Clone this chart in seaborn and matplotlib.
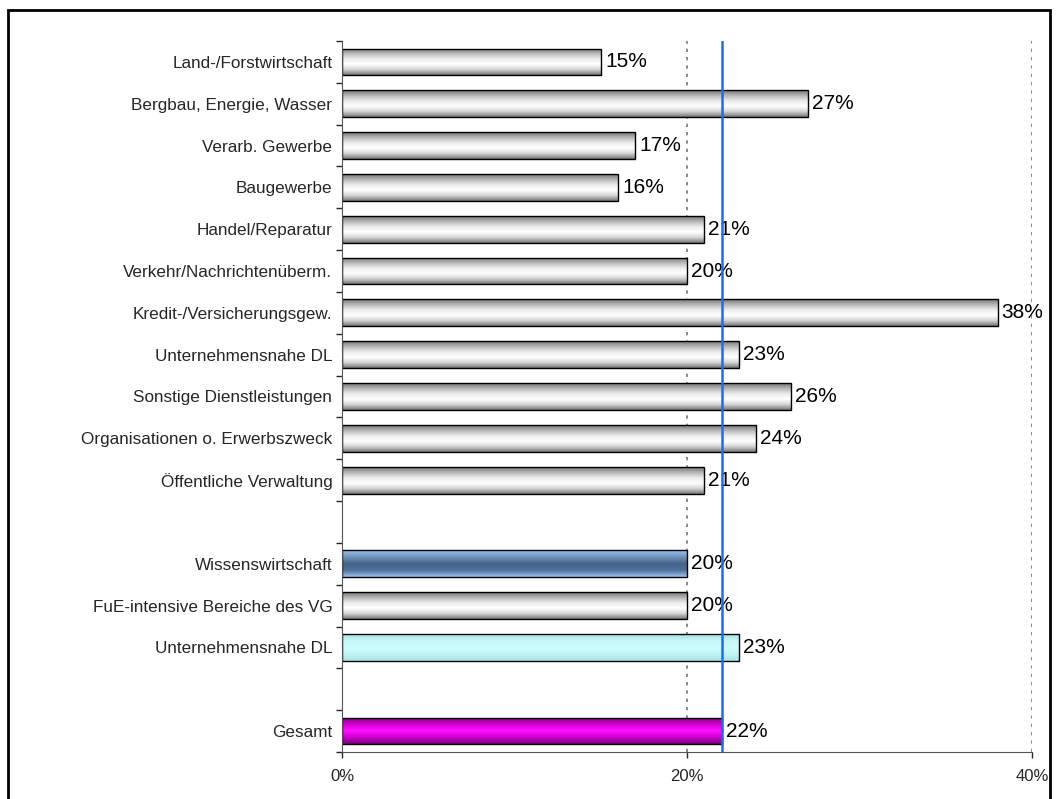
import numpy as np
import pandas as pd
import matplotlib
matplotlib.use("Agg")
import matplotlib.pyplot as plt
from matplotlib.colors import LinearSegmentedColormap
from matplotlib.patches import Rectangle
import seaborn as sns

sns.set_style("white")
plt.rcParams['font.family'] = ['Liberation Sans', 'DejaVu Sans']

categories = ["Land-/Forstwirtschaft", "Bergbau, Energie, Wasser", "Verarb. Gewerbe",
              "Baugewerbe", "Handel/Reparatur", "Verkehr/Nachrichtenüberm.",
              "Kredit-/Versicherungsgew.", "Unternehmensnahe DL", "Sonstige Dienstleistungen",
              "Organisationen o. Erwerbszweck", "Öffentliche Verwaltung", " ",
              "Wissenswirtschaft", "FuE-intensive Bereiche des VG", "Unternehmensnahe DL ",
              "  ", "Gesamt"]
values = [15, 27, 17, 16, 21, 20, 38, 23, 26, 24, 21, np.nan, 20, 20, 23, np.nan, 22]
styles = ["gray"] * 11 + ["none", "blue", "gray", "cyan", "none", "magenta"]
average = 22

gradients = {
    "gray": ["#767676", "#b8b8b8", "#ececec", "#ffffff", "#d4d4d4", "#767676"],
    "blue": ["#9cc4f4", "#6f92bc", "#45648a", "#4d6f98", "#9cc4f4"],
    "cyan": ["#a8e4e4", "#c8f8f8", "#cffcfc", "#c0f4f4", "#a8e4e4"],
    "magenta": ["#7a007a", "#d000d0", "#ff10ff", "#d000d0", "#7a007a"],
    "none": ["#ffffff", "#ffffff"],
}

df = pd.DataFrame({"cat": categories, "val": values, "style": styles})
plot_df = df.dropna()

fig = plt.figure(figsize=(10.56, 7.99), dpi=100)
ax = fig.add_axes([342 / 1056, 1 - 752 / 799, (1032 - 342) / 1056, (752 - 41) / 799])

sns.barplot(data=plot_df, x="val", y="cat", order=categories, hue="cat",
            palette={c: "#cccccc" for c in plot_df["cat"]}, legend=False,
            width=0.64, edgecolor="black", linewidth=1.0, ax=ax, orient="h")

# gradient fills clipped to each bar
for patch in ax.patches:
    x0, y0 = patch.get_x(), patch.get_y()
    w, h = patch.get_width(), patch.get_height()
    if not np.isfinite(w) or w == 0:
        continue
    idx = int(round(y0 + h / 2))
    st = styles[idx]
    cmap = LinearSegmentedColormap.from_list("g", gradients[st])
    grad = np.linspace(0, 1, 64).reshape(-1, 1)
    im = ax.imshow(grad, aspect="auto", cmap=cmap,
                   extent=(x0, x0 + w, y0 + h, y0), origin="upper", zorder=1.5,
                   interpolation="bilinear")
    im.set_clip_path(patch)
    patch.set_facecolor("none")
    patch.set_zorder(2)

for cont in ax.containers:
    ax.bar_label(cont, fmt="%d%%", padding=3, fontsize=15, color="black")

ax.set_xlim(0, 40)
ax.set_ylim(len(categories) - 0.5, -0.5)
ax.set_xticks([0, 20, 40])
ax.set_xticklabels(["0%", "20%", "40%"], fontsize=12)
ax.tick_params(axis="x", length=4, width=1, direction="out", pad=8, bottom=True)
ax.set_yticks(range(len(categories)))
ax.set_yticklabels([c.strip() for c in categories], fontsize=12.3)
ax.tick_params(axis="y", length=0, pad=7)
ax.set_yticks(np.arange(-0.5, len(categories) + 0.5, 1), minor=True)
ax.tick_params(axis="y", which="minor", length=4, width=1, left=True)
ax.set_xlabel("")
ax.set_ylabel("")

for xv in [20, 40]:
    ax.axvline(xv, color="#777777", linestyle=(0, (2, 3)), linewidth=1.2, zorder=0.5)
ax.axvline(average, color="#1a6ef0", linewidth=1.8, zorder=3)

for side in ["top", "right"]:
    ax.spines[side].set_visible(False)
ax.spines["left"].set_color("#555555")
ax.spines["bottom"].set_color("#555555")

# outer frame
fig.patches.append(Rectangle((8 / 1056, -0.05), (1050 - 8) / 1056, 1.05 - 10 / 799,
                             transform=fig.transFigure, fill=False,
                             edgecolor="black", linewidth=2))

fig.savefig("out.png", dpi=100)
